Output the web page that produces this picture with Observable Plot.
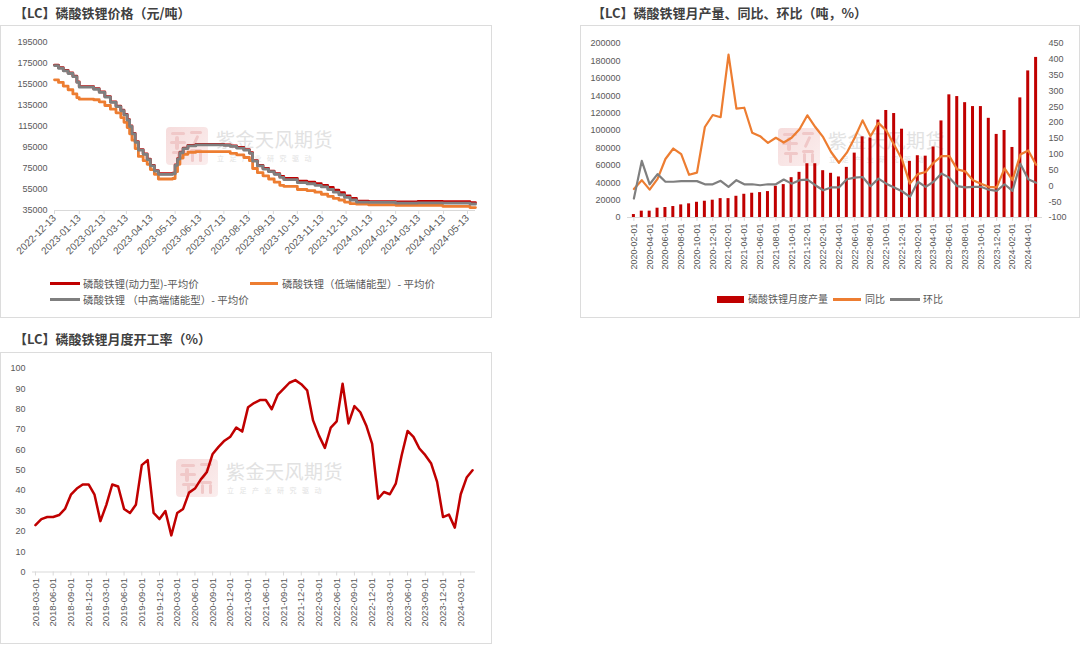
<!DOCTYPE html>
<html><head><meta charset="utf-8">
<script src="https://cdn.jsdelivr.net/npm/d3@7"></script>
<script src="https://cdn.jsdelivr.net/npm/@observablehq/plot@0.6"></script>
<style>
body{margin:0;background:#fff;}
#root{position:relative;width:1080px;height:645px;overflow:hidden;background:#fff;font-family:"Noto Sans CJK SC",sans-serif;}
.box{position:absolute;border:1px solid #dcdcdc;box-sizing:border-box;}
.title{position:absolute;font-size:13px;line-height:16px;font-weight:bold;color:#404040;white-space:nowrap;font-family:"Noto Sans CJK SC",sans-serif;}
.chart{position:absolute;}
.leg{position:absolute;font-size:10.5px;line-height:14px;color:#595959;white-space:nowrap;font-family:"Noto Sans CJK SC",sans-serif;}
.sw{position:absolute;}
.wm{position:absolute;white-space:nowrap;font-family:"Noto Sans CJK SC",sans-serif;}
.wm .logo{position:absolute;left:0;top:0;width:42px;height:38px;border-radius:4px;background:linear-gradient(135deg,#f6dcdc,#fbeeee);overflow:hidden;}
.wm .logo i{position:absolute;background:#f0c8c8;border-radius:2px;}
.wm .t1{position:absolute;left:50px;top:0px;font-size:19px;line-height:24px;color:#e2e2e2;letter-spacing:0.5px;}
.wm .t2{position:absolute;left:51px;top:27px;font-size:7px;line-height:9px;color:#e2e2e2;letter-spacing:5.5px;}
</style></head>
<body><div id="root"></div>
<script>
// ---------- Chart 1: price ----------
const priceDates = ["2022-12-13","2022-12-18","2022-12-24","2022-12-30","2023-01-05","2023-01-10","2023-01-13","2023-01-31","2023-02-07","2023-02-14","2023-02-21","2023-02-28","2023-03-06","2023-03-10","2023-03-14","2023-03-17","2023-03-20","2023-03-24","2023-03-28","2023-04-03","2023-04-08","2023-04-12","2023-04-17","2023-04-22","2023-05-10","2023-05-13","2023-05-16","2023-05-19","2023-05-23","2023-05-29","2023-06-08","2023-07-13","2023-07-21","2023-07-29","2023-08-07","2023-08-14","2023-08-18","2023-08-24","2023-08-31","2023-09-07","2023-09-14","2023-09-21","2023-09-26","2023-10-13","2023-10-25","2023-11-04","2023-11-12","2023-11-20","2023-11-27","2023-12-04","2023-12-11","2023-12-18","2023-12-26","2024-01-10","2024-02-13","2024-03-12","2024-04-12","2024-05-16","2024-05-23"];
const pricePower = [173500,171000,168500,166000,163000,157500,153000,151000,148000,143500,138500,134500,130500,126500,121500,115500,108500,100500,93000,89000,84000,78000,73000,70000,70500,78500,84500,90500,94500,97000,98000,97500,96500,95000,93000,90000,82500,78000,75000,72500,70000,67500,65500,63000,62000,60500,59000,57000,54500,52000,49000,46500,44000,43500,43200,43600,43500,42500,42300];
const priceLow = [159500,157000,153500,150000,146000,142500,141000,140500,138500,135000,131500,128000,123500,119000,114000,108000,102000,94000,86500,82500,79000,74000,69500,65000,65500,72000,79000,85000,88500,90500,91000,91000,89500,88000,85500,82500,75000,71000,68000,65000,62000,59000,58000,55000,54000,52500,50500,48500,46500,45000,43000,41500,41000,40500,40000,39800,39000,37800,37800];
const priceMidHigh = [173000,170500,168000,165500,162500,157000,152500,150500,147500,143000,138000,134000,130000,126000,121000,115000,108000,100000,92500,88500,83500,77500,72500,69500,70000,78000,84000,90000,94000,96500,97500,97000,96000,94500,92500,89500,82000,77500,74500,72000,69500,66500,64500,61500,60500,59000,57500,55000,52500,50000,47500,45000,43000,42800,42000,42300,42100,41200,41000];
const priceTicks = ["2022-12-13","2023-01-13","2023-02-13","2023-03-13","2023-04-13","2023-05-13","2023-06-13","2023-07-13","2023-08-13","2023-09-13","2023-10-13","2023-11-13","2023-12-13","2024-01-13","2024-02-13","2024-03-13","2024-04-13","2024-05-13"];
const priceYTicks = [35000,55000,75000,95000,115000,135000,155000,175000,195000];
const priceSeries = ["磷酸铁锂(动力型)-平均价","磷酸铁锂（低端储能型）- 平均价","磷酸铁锂 （中高端储能型）- 平均价"];

// ---------- Chart 2: monthly output ----------
const months2 = ["2020-02-01","2020-03-01","2020-04-01","2020-05-01","2020-06-01","2020-07-01","2020-08-01","2020-09-01","2020-10-01","2020-11-01","2020-12-01",
"2021-01-01","2021-02-01","2021-03-01","2021-04-01","2021-05-01","2021-06-01","2021-07-01","2021-08-01","2021-09-01","2021-10-01","2021-11-01","2021-12-01",
"2022-01-01","2022-02-01","2022-03-01","2022-04-01","2022-05-01","2022-06-01","2022-07-01","2022-08-01","2022-09-01","2022-10-01","2022-11-01","2022-12-01",
"2023-01-01","2023-02-01","2023-03-01","2023-04-01","2023-05-01","2023-06-01","2023-07-01","2023-08-01","2023-09-01","2023-10-01","2023-11-01","2023-12-01",
"2024-01-01","2024-02-01","2024-03-01","2024-04-01","2024-05-01"];
const output2 = [3400,7300,7300,10700,11500,12600,14500,15700,17500,18700,19900,21700,21700,24400,26700,27900,28600,29800,35900,37800,45800,51900,61800,61800,53800,50800,46600,57600,74000,92700,91500,112000,123000,119500,101500,64500,71000,70500,81000,111000,141000,139000,132000,127500,127500,114000,95500,100000,80500,137500,168500,184000];
const yoy2 = [-10,18,-12,22,85,118,100,35,42,186,224,217,415,244,247,168,157,136,152,137,152,179,223,186,154,107,73,105,152,207,157,199,175,130,83,7,37,44,73,94,94,52,46,18,7,-3,-5,55,18,99,112,67];
const mom2 = [-40,79,5,37,13,13,15,15,15,5,5,16,-3,18,5,5,2,5,5,20,7,18,20,2,-14,-5,-5,21,26,28,-1,23,7,-5,-17,-35,13,-3,13,39,26,-1,-5,-3,-3,-12,-16,5,-16,70,21,10];
const leftTicks2 = [0,20000,40000,60000,80000,100000,120000,140000,160000,180000,200000];
const rightTicks2 = [-100,-50,0,50,100,150,200,250,300,350,400,450];
const series2 = ["磷酸铁锂月度产量","同比","环比"];

// ---------- Chart 3: operating rate ----------
const months3 = ["2018-03-01","2018-04-01","2018-05-01","2018-06-01","2018-07-01","2018-08-01","2018-09-01","2018-10-01","2018-11-01","2018-12-01",
"2019-01-01","2019-02-01","2019-03-01","2019-04-01","2019-05-01","2019-06-01","2019-07-01","2019-08-01","2019-09-01","2019-10-01","2019-11-01","2019-12-01",
"2020-01-01","2020-02-01","2020-03-01","2020-04-01","2020-05-01","2020-06-01","2020-07-01","2020-08-01","2020-09-01","2020-10-01","2020-11-01","2020-12-01",
"2021-01-01","2021-02-01","2021-03-01","2021-04-01","2021-05-01","2021-06-01","2021-07-01","2021-08-01","2021-09-01","2021-10-01","2021-11-01","2021-12-01",
"2022-01-01","2022-02-01","2022-03-01","2022-04-01","2022-05-01","2022-06-01","2022-07-01","2022-08-01","2022-09-01","2022-10-01","2022-11-01","2022-12-01",
"2023-01-01","2023-02-01","2023-03-01","2023-04-01","2023-05-01","2023-06-01","2023-07-01","2023-08-01","2023-09-01","2023-10-01","2023-11-01","2023-12-01",
"2024-01-01","2024-02-01","2024-03-01","2024-04-01","2024-05-01"];
const rate3 = [23,26,27,27,28,31,38,41,43,43,38,25,33,43,42,31,29,33,52.5,55,29,26,30,18,29,31,39,41,45.5,49,58,61.5,64.5,66.5,71,69,81,83,84.5,84.5,80,87,90,93,94.3,92.3,89.3,74.5,67,61,71,74,92.5,73,81.5,78.5,72,63,36,39.3,38.2,43.4,57.4,69.3,66.4,60.7,57.4,53.3,44.3,27,28.2,21.8,38.2,46.4,50];
const yTicks3 = [0,10,20,30,40,50,60,70,80,90,100];

const titles = ["【LC】磷酸铁锂价格（元/吨）","【LC】磷酸铁锂月产量、同比、环比（吨，%）","【LC】磷酸铁锂月度开工率（%）"];

// ---------- layout helpers ----------
const root = document.getElementById("root");
function el(cls, css, html){const d=document.createElement("div");d.className=cls;Object.assign(d.style,css);if(html!=null)d.innerHTML=html;root.appendChild(d);return d;}
el("box",{left:"0px",top:"25px",width:"492px",height:"293px"});
el("box",{left:"580px",top:"25px",width:"500px",height:"293px"});
el("box",{left:"0px",top:"352px",width:"492px",height:"292px"});
el("title",{left:"14px",top:"5px"},titles[0]);
el("title",{left:"592px",top:"5px"},titles[1]);
el("title",{left:"14px",top:"331px"},titles[2]);
function watermark(x,y){
  el("wm",{left:x+"px",top:y+"px",width:"170px",height:"40px"},
   '<div class="logo"><i style="left:5px;top:5px;width:14px;height:3px"></i><i style="left:9px;top:9px;width:4px;height:14px"></i><i style="left:4px;top:14px;width:16px;height:3px"></i><i style="left:24px;top:4px;width:12px;height:3px"></i><i style="left:28px;top:8px;width:3px;height:12px;transform:rotate(25deg)"></i><i style="left:6px;top:24px;width:14px;height:3px"></i><i style="left:11px;top:26px;width:3px;height:9px"></i><i style="left:24px;top:22px;width:12px;height:3px"></i><i style="left:25px;top:25px;width:3px;height:10px"></i><i style="left:33px;top:25px;width:3px;height:10px"></i></div><div class="t1">紫金天风期货</div><div class="t2">立足产业研究驱动</div>');
}
watermark(166,127); watermark(778,128); watermark(176,459);

const axisFont = "Liberation Sans, Noto Sans CJK SC, sans-serif";
const C_RED="#C00000", C_ORA="#ED7D31", C_GRY="#7F7F7F", C_AX="#d9d9d9";

function place(svg, left, top){const w=document.createElement("div");w.className="chart";w.style.left=left+"px";w.style.top=top+"px";w.appendChild(svg);root.appendChild(w);}

// ---------- Chart 1 ----------
const parse = d3.utcParse("%Y-%m-%d");
const priceRows = priceDates.map((d,i)=>({date:parse(d), power:pricePower[i], low:priceLow[i], mid:priceMidHigh[i]}));
const p1 = Plot.plot({
  width:491, height:250, marginTop:17, marginBottom:65, marginLeft:54, marginRight:16,
  style:{fontSize:"9px", fontFamily:axisFont, color:"#595959", background:"transparent"},
  x:{type:"utc", domain:[parse("2022-12-13"), parse("2024-05-23")]},
  y:{domain:[35000,195000]},
  marks:[
    Plot.axisY(priceYTicks,{tickSize:0, tickPadding:7, tickFormat:d3.format("d"), label:null}),
    Plot.ruleY([35000],{stroke:C_AX}),
    Plot.axisX(priceTicks.map(parse),{tickRotate:-45, tickSize:4, tickPadding:2, stroke:C_AX, fontSize:10, tickFormat:d3.utcFormat("%Y-%m-%d"), label:null}),
    Plot.line(priceRows,{x:"date", y:"power", stroke:C_RED, strokeWidth:2.8, curve:"step-after"}),
    Plot.line(priceRows,{x:"date", y:"low", stroke:C_ORA, strokeWidth:2.8, curve:"step-after"}),
    Plot.line(priceRows,{x:"date", y:"mid", stroke:C_GRY, strokeWidth:2.8, curve:"step-after"})
  ]
});
place(p1,0,25);
// legend 1
el("sw",{left:"50px",top:"282px",width:"30px",height:"3px",background:C_RED});
el("leg",{left:"83px",top:"277px"},priceSeries[0]);
el("sw",{left:"250px",top:"282px",width:"28px",height:"3px",background:C_ORA});
el("leg",{left:"282px",top:"277px"},priceSeries[1]);
el("sw",{left:"50px",top:"298px",width:"30px",height:"3px",background:C_GRY});
el("leg",{left:"83px",top:"293px"},priceSeries[2]);

// ---------- Chart 2 ----------
const toL = r => (r + 100) * 200000 / 550;
const toR = l => Math.round(l * 550 / 200000 - 100);
const rows2 = months2.map((m,i)=>({m, out:output2[i], yoy:toL(yoy2[i]), mom:toL(mom2[i])}));
const p2 = Plot.plot({
  width:499, height:260, marginTop:18, marginBottom:68, marginLeft:47, marginRight:37,
  style:{fontSize:"9px", fontFamily:axisFont, color:"#595959", background:"transparent"},
  x:{type:"band", domain:months2, padding:0.62},
  y:{domain:[0,200000]},
  marks:[
    Plot.axisY(leftTicks2,{tickSize:0, tickPadding:7, tickFormat:d3.format("d"), label:null}),
    Plot.axisY(rightTicks2.map(toL),{anchor:"right", tickSize:0, tickPadding:6, tickFormat:toR, label:null}),
    Plot.axisX(months2.filter((d,i)=>i%2===0),{tickRotate:-90, tickSize:4, tickPadding:2, stroke:C_AX, fontSize:9, label:null}),
    Plot.barY(rows2,{x:"m", y:"out", fill:C_RED}),
    Plot.ruleY([0],{stroke:C_AX}),
    Plot.line(rows2,{x:"m", y:"yoy", stroke:C_ORA, strokeWidth:2.2}),
    Plot.line(rows2,{x:"m", y:"mom", stroke:C_GRY, strokeWidth:2.2})
  ]
});
place(p2,580,25);
el("sw",{left:"717px",top:"296px",width:"27px",height:"7px",background:C_RED});
el("leg",{left:"748px",top:"292px",fontSize:"10px"},series2[0]);
el("sw",{left:"833px",top:"298px",width:"28px",height:"2.5px",background:C_ORA});
el("leg",{left:"865px",top:"292px",fontSize:"10px"},series2[1]);
el("sw",{left:"890px",top:"298px",width:"30px",height:"2.5px",background:C_GRY});
el("leg",{left:"923px",top:"292px",fontSize:"10px"},series2[2]);

// ---------- Chart 3 ----------
const rows3 = months3.map((m,i)=>({m, v:rate3[i]}));
const p3 = Plot.plot({
  width:491, height:291, marginTop:16, marginBottom:71.5, marginLeft:32, marginRight:16,
  style:{fontSize:"9px", fontFamily:axisFont, color:"#595959", background:"transparent"},
  x:{type:"point", domain:months3, padding:0.5},
  y:{domain:[0,100]},
  marks:[
    Plot.axisY(yTicks3,{tickSize:0, tickPadding:7, label:null}),
    Plot.ruleY([0],{stroke:C_AX}),
    Plot.axisX(months3.filter((d,i)=>i%3===0),{tickRotate:-90, tickSize:4, tickPadding:2, stroke:C_AX, fontSize:9.5, label:null}),
    Plot.line(rows3,{x:"m", y:"v", stroke:C_RED, strokeWidth:2.5})
  ]
});
place(p3,0,352);
</script>
</body></html>
